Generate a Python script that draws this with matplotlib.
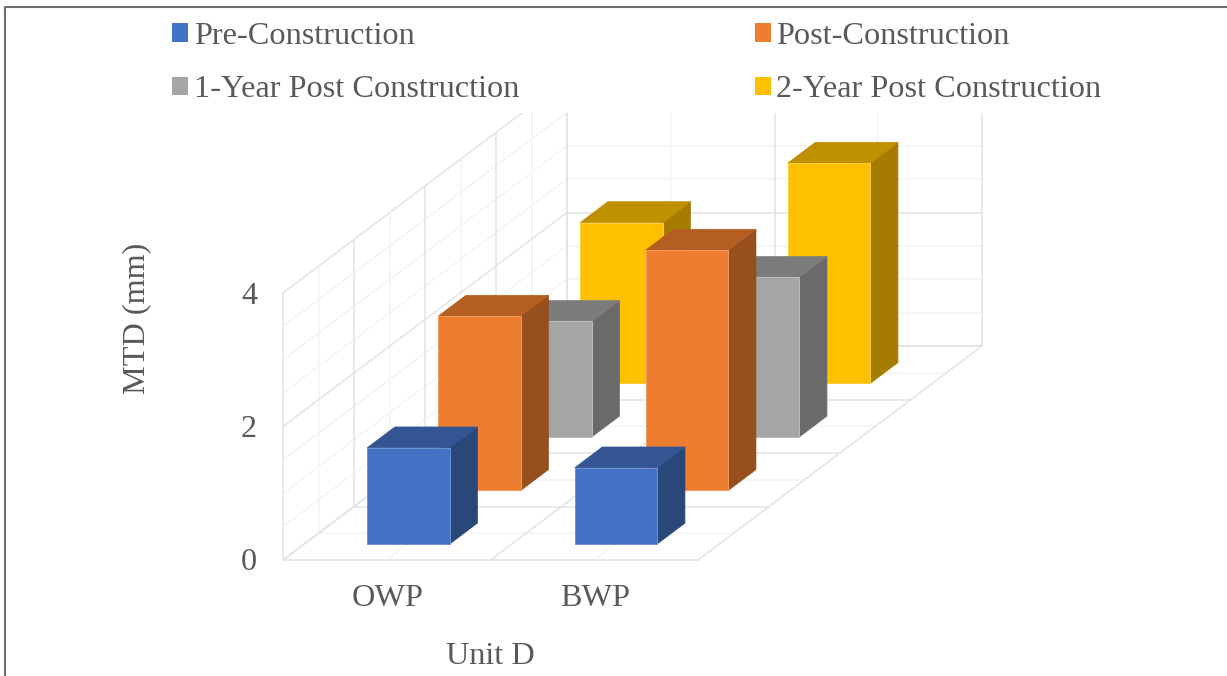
import numpy as np
import matplotlib
matplotlib.use('Agg')
import matplotlib.pyplot as plt
from matplotlib.patches import Patch, Polygon, Rectangle

plt.rcParams['font.family'] = ['Liberation Serif', 'DejaVu Serif']

categories = ['OWP', 'BWP']
series = ['Pre-Construction', 'Post-Construction', '1-Year Post Construction', '2-Year Post Construction']
# one row per series, one value per category
pre_con = [1.44, 1.14]
post_con = [2.61, 3.60]
year1 = [1.73, 2.39]
year2 = [2.41, 3.30]
values = [pre_con, post_con, year1, year2]
yticks = [0, 2, 4]

front_cols = ['#4472C4', '#ED7D31', '#A5A5A5', '#FFC000']
top_cols = ['#335593', '#B55E22', '#7C7C7C', '#BF9000']
side_cols = ['#2A4779', '#964F1D', '#6A6A6A', '#A67C00']
edge_cols = ['#6F92D2', '#F19A5E', '#BCBCBC', '#FFCF40']
txt = '#595959'
major = '#e3e3e3'
minor = '#f4f4f4'

# oblique projection used by the 3d look: category, depth, value -> pixels
def proj(c, d, z):
    return 283 + 207.5*c + 71*d, 560 - 53.5*d - 66.75*z

fig = plt.figure(figsize=(12.27, 6.76), dpi=100)
ax = fig.add_axes([0, 0, 1, 1])
ax.set_xlim(0, 1227)
ax.set_ylim(676, 0)
ax.axis('off')

# outer frame, only top and left are in the crop
ax.plot([5, 5, 1227], [676, 6.5, 6.5], color='#6e6e6e', lw=1.5, solid_capstyle='butt')

clip = Rectangle((0, 113), 1227, 563, transform=ax.transData)

def gridline(p0, p1, col):
    l, = ax.plot([p0[0], p1[0]], [p0[1], p1[1]], color=col, lw=1.1, zorder=1)
    l.set_clip_path(clip)

n_cat = len(categories)
n_ser = len(series)
# minor first, major on top
for want_major in [False, True]:
    col = major if want_major else minor
    for z in np.arange(0, 4.01, 0.5):
        if (z % 2 == 0) == want_major:
            gridline(proj(0, 0, z), proj(0, n_ser, z), col)
            gridline(proj(0, n_ser, z), proj(n_cat, n_ser, z), col)
    for d in np.arange(0, n_ser + .01, 0.5):
        if (d % 1 == 0) == want_major:
            gridline(proj(0, d, 0), proj(0, d, 4), col)
            gridline(proj(0, d, 0), proj(n_cat, d, 0), col)
    for c in np.arange(0, n_cat + .01, 0.5):
        if (c % 1 == 0) == want_major:
            gridline(proj(c, 0, 0), proj(c, n_ser, 0), col)
            gridline(proj(c, n_ser, 0), proj(c, n_ser, 4), col)

# bars, painter order: back series first
bar_w = 0.398
bar_d = 0.39
order = 2
for s in range(n_ser - 1, -1, -1):
    for c in range(n_cat):
        v = values[s][c]
        c0 = c + 0.303
        c1 = c0 + bar_w
        d0 = s + 0.3
        d1 = d0 + bar_d
        front = [proj(c0, d0, 0), proj(c1, d0, 0), proj(c1, d0, v), proj(c0, d0, v)]
        side = [proj(c1, d0, 0), proj(c1, d1, 0), proj(c1, d1, v), proj(c1, d0, v)]
        top = [proj(c0, d0, v), proj(c1, d0, v), proj(c1, d1, v), proj(c0, d1, v)]
        ax.add_patch(Polygon(side, fc=side_cols[s], ec=side_cols[s], lw=0.5, zorder=order))
        ax.add_patch(Polygon(top, fc=top_cols[s], ec=top_cols[s], lw=0.5, zorder=order))
        ax.add_patch(Polygon(front, fc=front_cols[s], ec=edge_cols[s], lw=0.7, zorder=order))
        order += 1

fs = 23.2
for z in yticks:
    x, y = proj(0, 0, z)
    ax.text(x - 26, y + 3, str(z), color=txt, fontsize=fs, ha='right', va='center')
for c, name in enumerate(categories):
    x, y = proj(c + 0.5, 0, 0)
    ax.text(x + 1, y + 39, name, color=txt, fontsize=fs, ha='center', va='center')
ax.text(137, 318, 'MTD (mm)', color=txt, fontsize=fs, rotation=90, ha='center', va='center')
ax.text(490.5, 657, 'Unit D', color=txt, fontsize=fs, ha='center', va='center')

# legend fills by column, so the handles are listed column-wise
idx = [0, 2, 1, 3]
handles = [Patch(fc=front_cols[i], ec='none') for i in idx]
labels = [series[i] for i in idx]
leg = ax.legend(handles, labels, ncols=2, loc='upper left', bbox_to_anchor=(172/1227, 1 - 22/676),
                frameon=False, fontsize=fs, labelcolor=txt, borderaxespad=0, borderpad=0,
                handlelength=0.5, handleheight=0.5, handletextpad=0.18,
                columnspacing=7.3, labelspacing=0.755)

fig.savefig('out.png', dpi=100, facecolor='white')
